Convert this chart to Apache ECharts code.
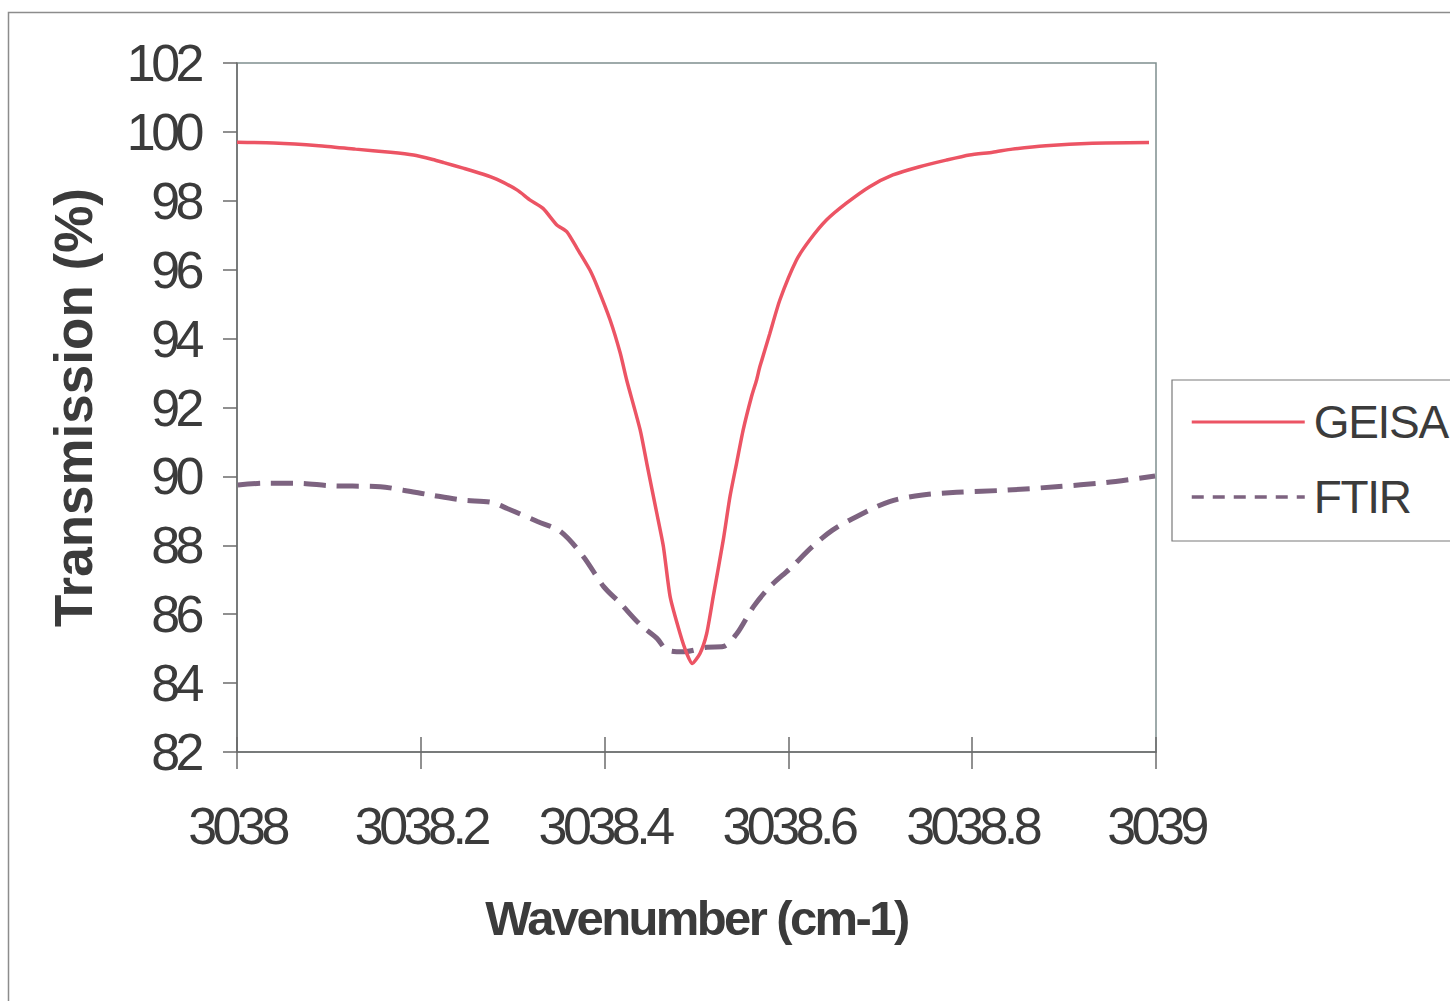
<!DOCTYPE html>
<html>
<head>
<meta charset="utf-8">
<script src="https://cdn.jsdelivr.net/npm/echarts@6/dist/echarts.min.js"></script>
<style>
  html, body { margin: 0; padding: 0; background: #fff; }
  #chart { width: 1450px; height: 1001px; }
  #chart text[style*="52px"] { letter-spacing: -4.5px; }
  #chart text[style*="49px"] { letter-spacing: -2.6px; }
  #chart text[style*="46px"] { letter-spacing: -1.3px; }
</style>
</head>
<body>
<div id="chart"></div>
<script>
// Wavenumber (cm-1) values for each series
const geisaX = [3038.000, 3038.040, 3038.089, 3038.129, 3038.167, 3038.192, 3038.213, 3038.225, 3038.247, 3038.268,
  3038.283, 3038.305, 3038.319, 3038.333, 3038.348, 3038.359, 3038.370, 3038.384, 3038.392, 3038.406,
  3038.417, 3038.424, 3038.4387, 3038.4459, 3038.4568, 3038.4640, 3038.4713, 3038.4821, 3038.4894, 3038.4954,
  3038.5038, 3038.5111, 3038.5182, 3038.5291, 3038.5364, 3038.5436, 3038.5508, 3038.5599, 3038.5654, 3038.5689,
  3038.5798, 3038.5907, 3038.6088, 3038.6232, 3038.6414, 3038.6631, 3038.6884, 3038.7137, 3038.7427, 3038.7717,
  3038.7970, 3038.8223, 3038.8436, 3038.8802, 3038.9308, 3038.9924];
const geisaY = [99.70, 99.68, 99.60, 99.50, 99.41, 99.33, 99.20, 99.11, 98.94, 98.77,
  98.62, 98.31, 98.02, 97.78, 97.30, 97.10, 96.62, 95.99, 95.51, 94.54,
  93.58, 92.80, 91.35, 90.38, 88.93, 87.96, 86.51, 85.44, 84.86, 84.57,
  84.86, 85.44, 86.51, 88.15, 89.41, 90.38, 91.35, 92.32, 92.80, 93.18,
  94.15, 95.12, 96.28, 96.86, 97.44, 97.93, 98.41, 98.75, 98.99, 99.18,
  99.33, 99.41, 99.50, 99.60, 99.67, 99.69];

const ftirX = [3038.001, 3038.029, 3038.066, 3038.102, 3038.156, 3038.181, 3038.211, 3038.246, 3038.276, 3038.294,
  3038.327, 3038.352, 3038.377, 3038.399, 3038.417, 3038.439, 3038.457, 3038.468, 3038.486, 3038.511,
  3038.529, 3038.544, 3038.562, 3038.580, 3038.602, 3038.626, 3038.648, 3038.674, 3038.710, 3038.746,
  3038.783, 3038.837, 3038.891, 3038.945, 3038.999];
const ftirY = [89.75, 89.80, 89.80, 89.73, 89.70, 89.60, 89.46, 89.31, 89.25, 89.07,
  88.69, 88.40, 87.67, 86.80, 86.32, 85.69, 85.30, 84.96, 84.91, 85.04,
  85.06, 85.44, 86.22, 86.80, 87.33, 87.96, 88.44, 88.83, 89.27, 89.46,
  89.54, 89.60, 89.70, 89.82, 90.01];

const seriesNames = ['GEISA', 'FTIR'];
const xTicks = { min: 3038, max: 3039, step: 0.2 };
const yTicks = { min: 82, max: 102, step: 2 };

const pair = (xs, ys) => xs.map((x, i) => [x, ys[i]]);

const textColor = '#3b3b3b';
const axisColor = '#6b6b6b';
const font = "'Liberation Sans', Arial, sans-serif";

const chart = echarts.init(document.getElementById('chart'), null, { renderer: 'svg' });
chart.setOption({
  backgroundColor: '#ffffff',
  animation: false,
  graphic: [{
    type: 'rect', left: 6, top: 10, silent: true,
    shape: { width: 1500, height: 1100 },
    style: { fill: 'none', stroke: '#8c8c8c', lineWidth: 1.5 }
  }],
  grid: {
    left: 237, top: 63, right: 294, bottom: 249,
    show: true, borderColor: '#7f8f8f', borderWidth: 1.5, backgroundColor: 'transparent'
  },
  legend: {
    orient: 'vertical',
    left: 1172, top: 380,
    padding: [17, 40, 19, 18],
    borderColor: '#7a7a7a', borderWidth: 1.2,
    itemWidth: 113, itemHeight: 14, itemGap: 25,
    itemStyle: { opacity: 0 },
    textStyle: { fontSize: 46, fontFamily: font, color: textColor, lineHeight: 50, padding: [0, 0, 0, 4] },
    data: [
      { name: 'GEISA', lineStyle: { width: 3 } },
      { name: 'FTIR', lineStyle: { width: 3.5, type: [12, 9] } }
    ]
  },
  xAxis: [{
    type: 'value', min: xTicks.min, max: xTicks.max, interval: xTicks.step,
    name: 'Wavenumber (cm-1)', nameLocation: 'middle', nameGap: 141,
    nameTextStyle: { fontSize: 49, fontWeight: 'bold', fontFamily: font, color: textColor },
    axisLine: { show: true, onZero: false, lineStyle: { color: axisColor, width: 1.5 } },
    axisTick: { show: true, inside: false, length: 17, lineStyle: { color: axisColor, width: 1.5 } },
    axisLabel: { margin: 48, fontSize: 52, fontFamily: font, color: textColor,
      formatter: v => String(Math.round(v * 10) / 10) },
    splitLine: { show: false }
  }, {
    type: 'value', min: xTicks.min, max: xTicks.max, interval: xTicks.step, position: 'bottom',
    axisLine: { show: false },
    axisTick: { show: true, inside: true, length: 15, lineStyle: { color: axisColor, width: 1.5 } },
    axisLabel: { show: false },
    splitLine: { show: false }
  }],
  yAxis: {
    type: 'value', min: yTicks.min, max: yTicks.max, interval: yTicks.step,
    name: 'Transmission (%)', nameLocation: 'middle', nameGap: 137, nameRotate: 90,
    nameTextStyle: { fontSize: 53, fontWeight: 'bold', fontFamily: font, color: textColor },
    axisLine: { show: true, onZero: false, lineStyle: { color: axisColor, width: 1.5 } },
    axisTick: { show: true, inside: false, length: 14, lineStyle: { color: axisColor, width: 1.5 } },
    axisLabel: { margin: 37, fontSize: 52, fontFamily: font, color: textColor },
    splitLine: { show: false }
  },
  series: [{
    name: seriesNames[0], type: 'line', data: pair(geisaX, geisaY),
    symbol: 'none', showSymbol: false, smooth: 0.2,
    lineStyle: { color: '#ec5464', width: 3.5 }, itemStyle: { color: '#ec5464' }, z: 3
  }, {
    name: seriesNames[1], type: 'line', data: pair(ftirX, ftirY),
    symbol: 'none', showSymbol: false, smooth: 0.3,
    lineStyle: { color: '#7d6380', width: 5, type: [22, 11] }, itemStyle: { color: '#7d6380' }, z: 2
  }]
});
</script>
</body>
</html>
